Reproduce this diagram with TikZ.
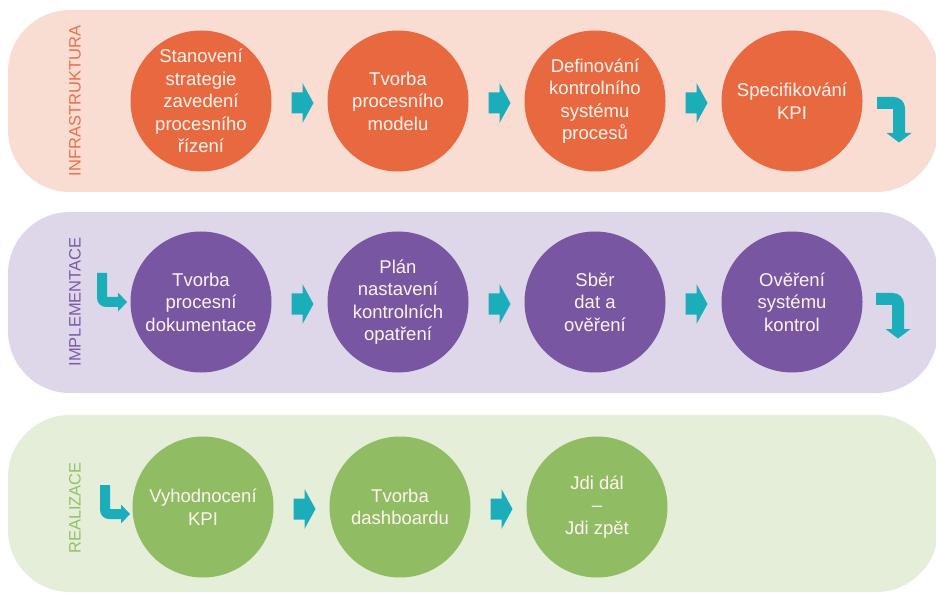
\documentclass[tikz,border=0pt]{standalone}
\usepackage{fontspec}
\setmainfont{Liberation Sans}
\usetikzlibrary{calc}
\definecolor{bandA}{HTML}{F9DCD2}
\definecolor{bandB}{HTML}{DED7E9}
\definecolor{bandC}{HTML}{E4EED9}
\definecolor{circA}{HTML}{E8683F}
\definecolor{circB}{HTML}{7856A1}
\definecolor{circC}{HTML}{90BD63}
\definecolor{labA}{HTML}{EA7049}
\definecolor{labB}{HTML}{7B5AA6}
\definecolor{labC}{HTML}{93C06A}
\definecolor{tealA}{HTML}{1BAEBA}
\definecolor{ctext}{HTML}{FFF5F0}
\tikzset{
  stepcirc/.style={circle, minimum size=141pt, inner sep=0pt, align=center, text=ctext,
    font=\fontsize{18.5pt}{22.5pt}\selectfont},
  sidelab/.style={rotate=90, anchor=center, font=\fontsize{16.5pt}{18pt}\selectfont},
  rarrow/.pic={\fill[tealA] (-11,-10.5)--(0,-10.5)--(0,-20)--(11,0)--(0,20)--(0,10.5)--(-11,10.5)--cycle;},
  darrow/.pic={\fill[tealA] (0,0)--(17,0) .. controls (23,0) and (28,5) .. (28,11) -- (28,36) -- (34.5,36) -- (22,45.5) -- (9.5,36) -- (16,36) -- (16,12) -- (0,12) -- cycle;},
  larrow/.pic={\fill[tealA] (0,0)--(10,0)--(10,24)--(21,24)--(21,19.5)--(30,29)--(21,38.5)--(21,34)--(9,34) .. controls (4,34) and (0,30) .. (0,25) -- cycle;}
}
\begin{document}
\begin{tikzpicture}[x=1pt,y=-1pt]
\useasboundingbox (0,0) rectangle (936,593);
\clip (0,0) rectangle (936,593);
\fill[white] (0,0) rectangle (936,593);
% bands
\fill[bandA, rounded corners=62pt] (8,10) rectangle (938,192);
\fill[bandB, rounded corners=62pt] (8,212) rectangle (938,393);
\fill[bandC, rounded corners=62pt] (8,415) rectangle (938,592);
% side labels
\node[sidelab, text=labA] (labInf) at (75,101) {INFRASTRUKTURA};
\node[sidelab, text=labB] (labImp) at (75,302) {IMPLEMENTACE};
\node[sidelab, text=labC] (labRea) at (75,508) {REALIZACE};
% band 1
\node[stepcirc, fill=circA] (a1) at (201,101) {Stanovení\\strategie\\zavedení\\procesního\\řízení};
\node[stepcirc, fill=circA] (a2) at (398,101) {Tvorba\\procesního\\modelu};
\node[stepcirc, fill=circA] (a3) at (595,101) {Definování\\kontrolního\\systému\\procesů};
\node[stepcirc, fill=circA] (a4) at (792,101) {Specifikování\\KPI};
% band 2
\node[stepcirc, fill=circB] (b1) at (201,302) {Tvorba\\procesní\\dokumentace};
\node[stepcirc, fill=circB] (b2) at (398,302) {Plán\\nastavení\\kontrolních\\opatření};
\node[stepcirc, fill=circB] (b3) at (595,302) {Sběr\\dat a\\ověření};
\node[stepcirc, fill=circB] (b4) at (792,302) {Ověření\\systému\\kontrol};
% band 3
\node[stepcirc, fill=circC] (c1) at (203,507) {Vyhodnocení\\KPI};
\node[stepcirc, fill=circC] (c2) at (400,507) {Tvorba\\dashboardu};
\node[stepcirc, fill=circC] (c3) at (597,507) {Jdi dál\\–\\Jdi zpět};
% straight arrows
\foreach \p/\q in {a1/a2,a2/a3,a3/a4,b1/b2,b2/b3,b3/b4,c1/c2,c2/c3}
  \pic at ($($(\p)!0.5!(\q)$)+(3,2)$) {rarrow};
% bent arrows
\coordinate (dA) at ($(a4)+(85,-4)$);
\coordinate (dB) at ($(b4)+(84,-9)$);
\coordinate (lB) at ($(b1)+(-104,-29)$);
\coordinate (lC) at ($(c1)+(-103,-22)$);
\pic at (dA) {darrow};
\pic at (dB) {darrow};
\pic at (lB) {larrow};
\pic at (lC) {larrow};
\end{tikzpicture}
\end{document}
